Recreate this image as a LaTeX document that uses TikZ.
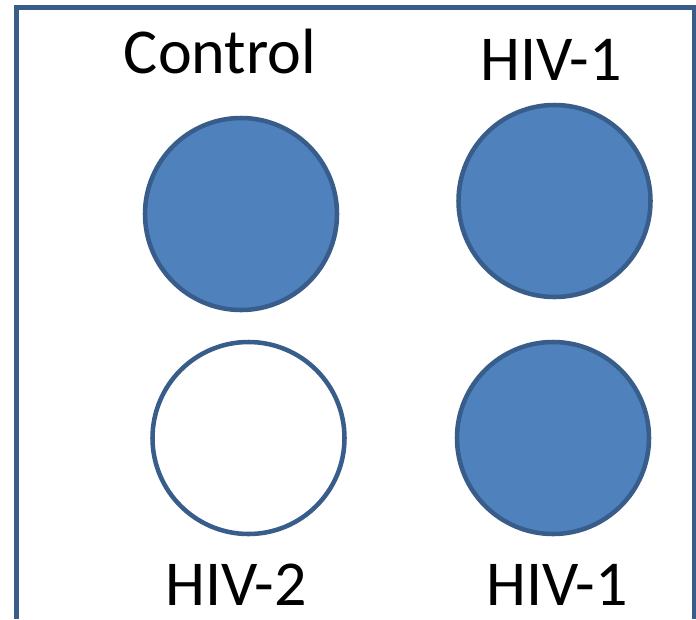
\documentclass[tikz,border=0pt]{standalone}
\usepackage{fontspec}
\setmainfont{Carlito}
\definecolor{spotblue}{RGB}{79,129,189}
\definecolor{rimblue}{RGB}{56,93,138}
\usetikzlibrary{positioning}

\begin{document}
\begin{tikzpicture}[
        x=0.75pt, y=-0.75pt,
        spot/.style={circle, draw=rimblue, fill=spotblue, line width=3.4pt, minimum size=144pt, inner sep=0pt},
        emptyspot/.style={spot, fill=white},
        tag/.style={anchor=base, font=\fontsize{48}{56}\selectfont, inner sep=0pt}
    ]
        \useasboundingbox (0,0) rectangle (696,619);

        % Frame (open at the bottom)
        \draw[rimblue, line width=3.75pt] (16.5,619) -- (16.5,7.5) -- (694,7.5) -- (694,619);

        % Spots
        \node[spot] (CTRL) at (241,214) {};
        \node[spot] (HIV1_A) at (554.5,201) {};
        \node[emptyspot] (HIV2) at (248.5,438) {};
        \node[spot] (HIV1_B) at (553,438) {};

        % Labels
        \node[tag] (CTRL_T) at (220,73) {Control};
        \node[tag] (HIV1_AT) at (551,80) {HIV-1};
        \node[tag] (HIV2_T) at (236,605) {HIV-2};
        \node[tag] (HIV1_BT) at (557,605) {HIV-1};
    \end{tikzpicture}
\end{document}
